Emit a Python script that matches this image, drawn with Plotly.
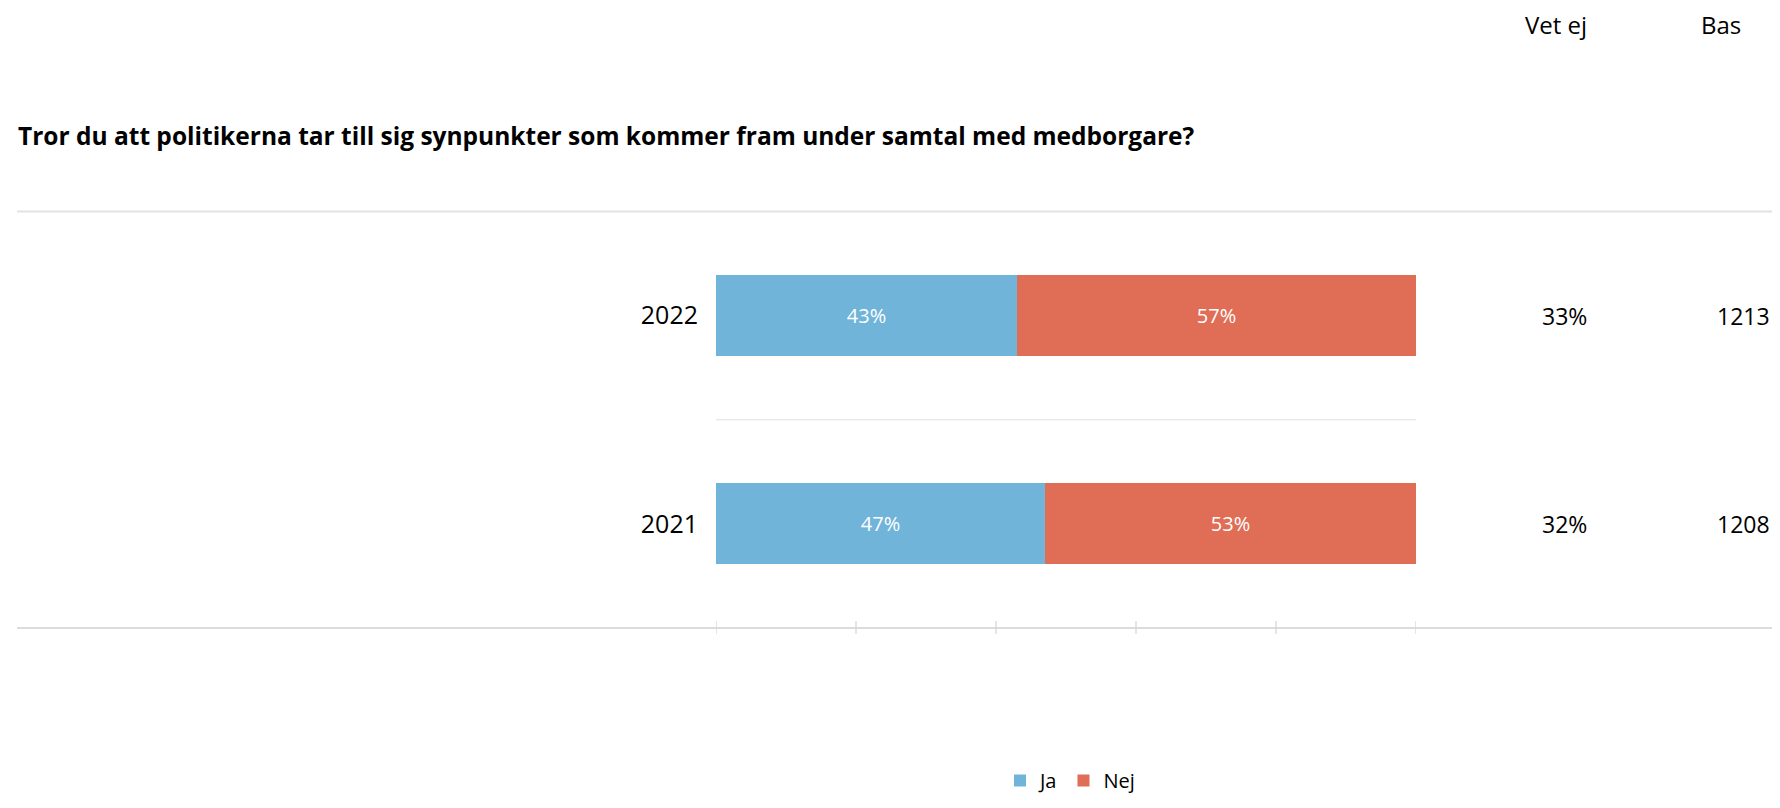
import plotly.graph_objects as go

categories = ["2021", "2022"]
ja = [47, 43]
nej = [53, 57]
vet_ej = ["32%", "33%"]
bas = ["1208", "1213"]
tick_values = [0, 20, 40, 60, 80, 100]
title_text = "Tror du att politikerna tar till sig synpunkter som kommer fram under samtal med medborgare?"

# The page body has an 8px default margin: the figure sits at (8, 8) in the window,
# so it is sized to fit the window exactly and positions are given in window pixels.
OFF = 8
W, H = 1780 - 2 * OFF, 808 - 2 * OFF
FONT = "Open Sans"
BLUE = "#70B4DA"
RED = "#E06D56"


def px(x):
    return (x - OFF) / W


def py(y):
    return 1 - (y - OFF) / H


fig = go.Figure()
fig.add_trace(go.Bar(
    y=categories, x=ja, name="Ja", orientation="h", marker=dict(color=BLUE, line=dict(width=0)),
    text=[f"{v}%" for v in ja], textposition="inside", insidetextanchor="middle",
    textfont=dict(color="white", size=20, family=FONT), width=0.388,
))
fig.add_trace(go.Bar(
    y=categories, x=nej, name="Nej", orientation="h", marker=dict(color=RED, line=dict(width=0)),
    text=[f"{v}%" for v in nej], textposition="inside", insidetextanchor="middle",
    textfont=dict(color="white", size=20, family=FONT), width=0.388,
))

x0d, x1d = px(716), px(1416)
y0d, y1d = py(628), py(211.5)

shapes = []
shapes.append(dict(type="line", xref="paper", yref="paper", x0=px(17), x1=1, y0=y1d, y1=y1d,
                   line=dict(color="#e2e2e2", width=2)))
shapes.append(dict(type="line", xref="paper", yref="paper", x0=px(17), x1=1, y0=y0d, y1=y0d,
                   line=dict(color="#dcdcdc", width=2)))
shapes.append(dict(type="line", xref="x", yref="y", x0=0, x1=100, y0=0.5, y1=0.5,
                   line=dict(color="#e0e0e0", width=1)))
for t in tick_values:
    shapes.append(dict(type="line", xref="x", yref="paper", x0=t, x1=t,
                       y0=y0d - 6 / H, y1=y0d + 7 / H, line=dict(color="#d4d4d4", width=1.2)))

annotations = [
    dict(text=f"<b>{title_text}</b>", xref="paper", yref="paper", x=px(16), y=py(135),
         xanchor="left", yanchor="middle", showarrow=False,
         font=dict(family=FONT, size=24.5, color="black")),
    dict(text="Vet ej", xref="paper", yref="paper", x=px(1556), y=py(25),
         xanchor="center", yanchor="middle", showarrow=False,
         font=dict(family=FONT, size=24, color="black")),
    dict(text="Bas", xref="paper", yref="paper", x=px(1721), y=py(25),
         xanchor="center", yanchor="middle", showarrow=False,
         font=dict(family=FONT, size=24, color="black")),
]
for i, (v, b) in enumerate(zip(vet_ej, bas)):
    annotations.append(dict(text=v, xref="paper", yref="y", x=px(1564), y=i, xanchor="center",
                            yanchor="middle", showarrow=False,
                            font=dict(family=FONT, size=23, color="black")))
    annotations.append(dict(text=b, xref="paper", yref="y", x=1, y=i, xanchor="right",
                            yanchor="middle", showarrow=False,
                            font=dict(family=FONT, size=23, color="black")))

fig.update_layout(
    width=W, height=H,
    margin=dict(l=0, r=0, t=0, b=0),
    paper_bgcolor="white", plot_bgcolor="white",
    barmode="stack",
    font=dict(family=FONT, color="black"),
    xaxis=dict(domain=[x0d, x1d], range=[0, 100], showgrid=False, zeroline=False,
               showticklabels=False, showline=False, ticks=""),
    yaxis=dict(type="category", domain=[y0d, y1d], categoryorder="array", categoryarray=categories,
               range=[-0.5, 1.5], showgrid=False, zeroline=False, showline=False, ticks="",
               tickfont=dict(family=FONT, size=25, color="black"), ticklabelstandoff=17),
    legend=dict(orientation="h", x=px(1070), xanchor="center", y=0, yanchor="bottom",
                font=dict(family=FONT, size=20, color="black"), itemwidth=30, traceorder="normal"),
    shapes=shapes, annotations=annotations, showlegend=True,
)

fig.write_html("out.html")
